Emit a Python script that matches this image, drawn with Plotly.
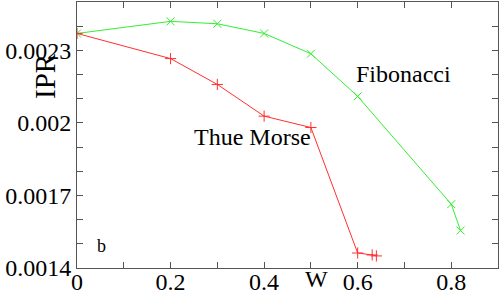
import plotly.graph_objects as go

fib_w = [0.0, 0.2, 0.3, 0.4, 0.5, 0.6, 0.8, 0.82]
fib_ipr = [0.00237, 0.00242, 0.00241, 0.00237, 0.002286, 0.00211, 0.001664, 0.001555]

tm_w = [0.0, 0.2, 0.3, 0.4, 0.5, 0.6, 0.631, 0.64]
tm_ipr = [0.00237, 0.002266, 0.002159, 0.002028, 0.001981, 0.001462, 0.001454, 0.00145]

x_ticks = [0, 0.2, 0.4, 0.6, 0.8]
x_labels = ["0", "0.2", "0.4", "0.6", "0.8"]
y_ticks = [0.0014, 0.0017, 0.0020, 0.0023]
y_labels = ["0.0014", "0.0017", "0.002", "0.0023"]

FONT = "Liberation Serif, Times New Roman, serif"
AX = "#555555"
GREEN = "#33ee33"
RED = "#ff3030"

fig = go.Figure()
fig.add_trace(go.Scatter(x=fib_w, y=fib_ipr, mode="lines+markers",
                         line=dict(color=GREEN, width=1),
                         marker=dict(symbol="x-thin", size=8, line=dict(color=GREEN, width=1)),
                         showlegend=False))
fig.add_trace(go.Scatter(x=tm_w, y=tm_ipr, mode="lines+markers",
                         line=dict(color=RED, width=1),
                         marker=dict(symbol="cross-thin", size=8, line=dict(color=RED, width=1)),
                         showlegend=False))

fig.update_layout(
    width=499, height=291,
    margin=dict(l=77, r=1, t=2, b=23),
    paper_bgcolor="white", plot_bgcolor="white",
    font=dict(family=FONT, size=24, color="black"),
    xaxis=dict(range=[0, 0.9], tickvals=x_ticks, ticktext=x_labels, automargin=False,
               ticks="inside", ticklen=6, tickcolor=AX, tickwidth=1,
               showline=True, linecolor=AX, linewidth=1, mirror="allticks",
               showgrid=False, zeroline=False, ticklabelstandoff=-8,
               minor=dict(dtick=0.1, tick0=0, ticks="inside", ticklen=6, tickcolor=AX, showgrid=False),
               tickfont=dict(size=24)),
    yaxis=dict(range=[0.0014, 0.0025], tickvals=y_ticks, ticktext=y_labels, automargin=False,
               ticks="inside", ticklen=6, tickcolor=AX, tickwidth=1,
               showline=True, linecolor=AX, linewidth=1, mirror="allticks",
               showgrid=False, zeroline=False,
               minor=dict(dtick=0.0001, tick0=0.0014, ticks="inside", ticklen=6, tickcolor=AX, showgrid=False),
               tickfont=dict(size=24)),
)

fig.add_annotation(text="Fibonacci", x=403, y=74, showarrow=False, font=dict(size=24))
fig.add_annotation(text="Thue Morse", x=252, y=137, showarrow=False, font=dict(size=24))
fig.add_annotation(text="b", x=101, y=246, showarrow=False, font=dict(size=18))
fig.add_annotation(text="IPR", x=45, y=76, showarrow=False, textangle=-90, font=dict(size=29))
fig.add_annotation(text="W", x=316, y=279, showarrow=False, font=dict(size=24))

# convert pixel positions to paper coords
pl, pr, pt, pb = 77, 498, 2, 268
for a in fig.layout.annotations:
    px, py = a.x, a.y
    a.x = (px - pl) / (pr - pl)
    a.y = (pb - py) / (pb - pt)
    a.xref = "paper"
    a.yref = "paper"
    a.xanchor = "center"
    a.yanchor = "middle"

fig.write_html("out.html", config={"displayModeBar": False},
               post_script="document.body.style.margin='0';document.body.style.padding='0';document.body.style.overflow='hidden';")
